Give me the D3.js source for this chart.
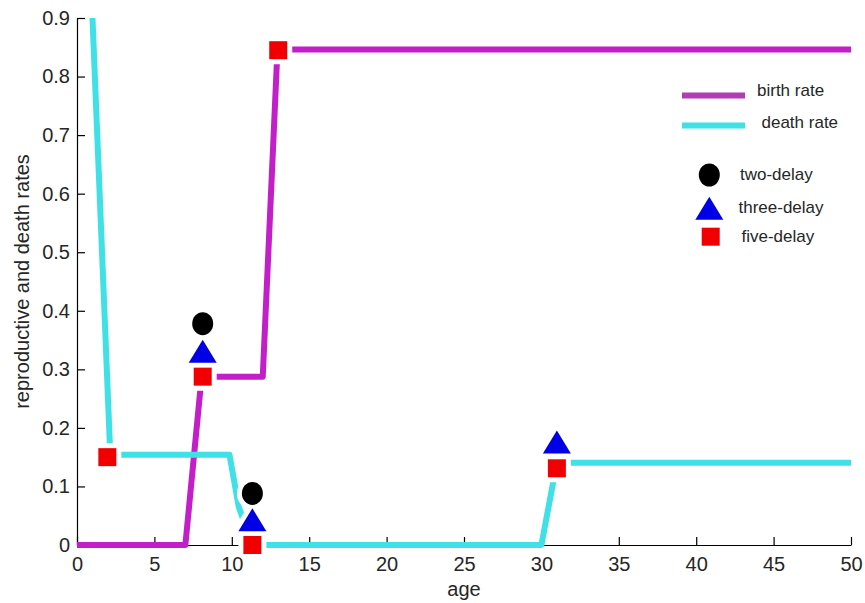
<!DOCTYPE html>
<html>
<head>
<meta charset="utf-8">
<script src="https://cdn.jsdelivr.net/npm/d3@7"></script>
<style>
	body { margin: 0; background: #fff; }
	text { font-family: "Liberation Sans", Arial, sans-serif; fill: #262626; }
</style>
</head>
<body>
<div id="chart"></div>
<script>
// rates
var birthAge = [0, 7, 8.05, 12, 12.95, 50],
	birthRate = [0, 0, 0.2875, 0.2875, 0.846, 0.846];
var deathAge = [1, 2.15, 9.85, 10.45, 11.33, 30, 31, 50],
	deathRate = [0.9, 0.154, 0.154, 0.065, 0, 0, 0.1406, 0.1406];

var twoDelayAge = [8.12, 11.33],
	twoDelayRate = [0.378, 0.088];
var threeDelayAge = [8.12, 11.33, 31],
	threeDelayRate = [0.331, 0.043, 0.176];
var fiveDelayAge = [1.96, 8.12, 11.33, 13.0, 31.0],
	fiveDelayRate = [0.15, 0.2875, 0, 0.845, 0.131];

var xTicks = [0, 5, 10, 15, 20, 25, 30, 35, 40, 45, 50],
	yTicks = [0, 0.1, 0.2, 0.3, 0.4, 0.5, 0.6, 0.7, 0.8, 0.9];

var lineNames = ['birth rate', 'death rate'],
	markerNames = ['two-delay', 'three-delay', 'five-delay'];

var width = 865, height = 603,
	margin = {top: 18, right: 14, bottom: 58, left: 77},
	w = width - margin.left - margin.right,
	h = height - margin.top - margin.bottom;

var colors = {birth: '#c21fc8', birthKey: '#b23cb4', death: '#3fe0e6', two: '#000', three: '#0000e6', five: '#f00000'};

var svg = d3.select('#chart').append('svg').attr('width', width).attr('height', height);
var g = svg.append('g').attr('transform', 'translate(' + margin.left + ',' + margin.top + ')');

var x = d3.scaleLinear().domain([0, 50]).range([0, w]),
	y = d3.scaleLinear().domain([0, 0.9]).range([h, 0]);

// axes, ticks point inward
var xAxis = g.append('g').attr('transform', 'translate(0,' + h + ')')
	.call(d3.axisBottom(x).tickValues(xTicks).tickSizeInner(-8).tickSizeOuter(0).tickPadding(12).tickFormat(d3.format('~g')));
var yAxis = g.append('g')
	.call(d3.axisLeft(y).tickValues(yTicks).tickSizeInner(-8).tickSizeOuter(0).tickPadding(7).tickFormat(d3.format('~g')));
[xAxis, yAxis].forEach(function (a) {
	a.selectAll('path, line').attr('stroke', '#000').attr('stroke-width', 1.2);
	a.selectAll('text').style('font-size', '20px').attr('fill', '#262626');
});
xAxis.selectAll('text').attr('dy', '0.72em');

g.append('text').attr('x', w / 2).attr('y', h + 51).attr('text-anchor', 'middle')
	.style('font-size', '20px').text('age');
svg.append('text').attr('transform', 'translate(29,' + (margin.top + h / 2) + ') rotate(-90)')
	.attr('text-anchor', 'middle').style('font-size', '20px').text('reproductive and death rates');

var line = d3.line().x(function (d) { return x(d[0]); }).y(function (d) { return y(d[1]); });

function drawRate(ages, rates, color) {
	g.append('path').datum(d3.zip(ages, rates))
		.attr('d', line).attr('fill', 'none')
		.attr('stroke', color).attr('stroke-width', 6)
		.attr('stroke-linejoin', 'round').attr('stroke-linecap', 'butt');
}
drawRate(birthAge, birthRate, colors.birth);
drawRate(deathAge, deathRate, colors.death);

var shapes = {
	circle: function (s) { return s.append('ellipse').attr('rx', 10.5).attr('ry', 11.5); },
	triangle: function (s) { return s.append('path').attr('d', 'M0,-11.5L14,11.5L-14,11.5Z'); },
	square: function (s) { return s.append('rect').attr('x', -9).attr('y', -9).attr('width', 18).attr('height', 18); }
};

var markerSets = [
	{ages: twoDelayAge, rates: twoDelayRate, shape: 'circle', color: colors.two},
	{ages: threeDelayAge, rates: threeDelayRate, shape: 'triangle', color: colors.three},
	{ages: fiveDelayAge, rates: fiveDelayRate, shape: 'square', color: colors.five}
];

// white halos first, so the lines break around every marker
['halo', 'fill'].forEach(function (pass) {
	markerSets.forEach(function (m) {
		var pts = g.append('g').selectAll('g').data(d3.zip(m.ages, m.rates)).enter().append('g')
			.attr('transform', function (d) { return 'translate(' + x(d[0]) + ',' + y(d[1]) + ')'; });
		var el = shapes[m.shape](pts);
		if (pass === 'halo') {
			el.attr('fill', '#fff').attr('stroke', '#fff').attr('stroke-width', 10).attr('stroke-linejoin', 'round');
		} else {
			el.attr('fill', m.color);
		}
	});
});

// legend
var legend = svg.append('g').attr('class', 'legend');
[colors.birthKey, colors.death].forEach(function (c, i) {
	legend.append('line').attr('x1', 682).attr('x2', 745).attr('y1', 95.5 + i * 30).attr('y2', 95.5 + i * 30)
		.attr('stroke', c).attr('stroke-width', 6);
	legend.append('text').attr('x', 757 + i * 4.5).attr('y', 96 + i * 32).style('font-size', '17px').text(lineNames[i]);
});
var keyY = [175, 208.3, 236.7], keyTextY = [180, 213.3, 241.7], keyTextX = [740, 738.5, 741.5];
markerSets.forEach(function (m, i) {
	var k = legend.append('g').attr('transform', 'translate(' + (m.shape === 'square' ? 710.7 : 709.3) + ',' + keyY[i] + ')');
	shapes[m.shape](k).attr('fill', m.color);
	legend.append('text').attr('x', keyTextX[i]).attr('y', keyTextY[i]).style('font-size', '17px').text(markerNames[i]);
});
</script>
</body>
</html>
